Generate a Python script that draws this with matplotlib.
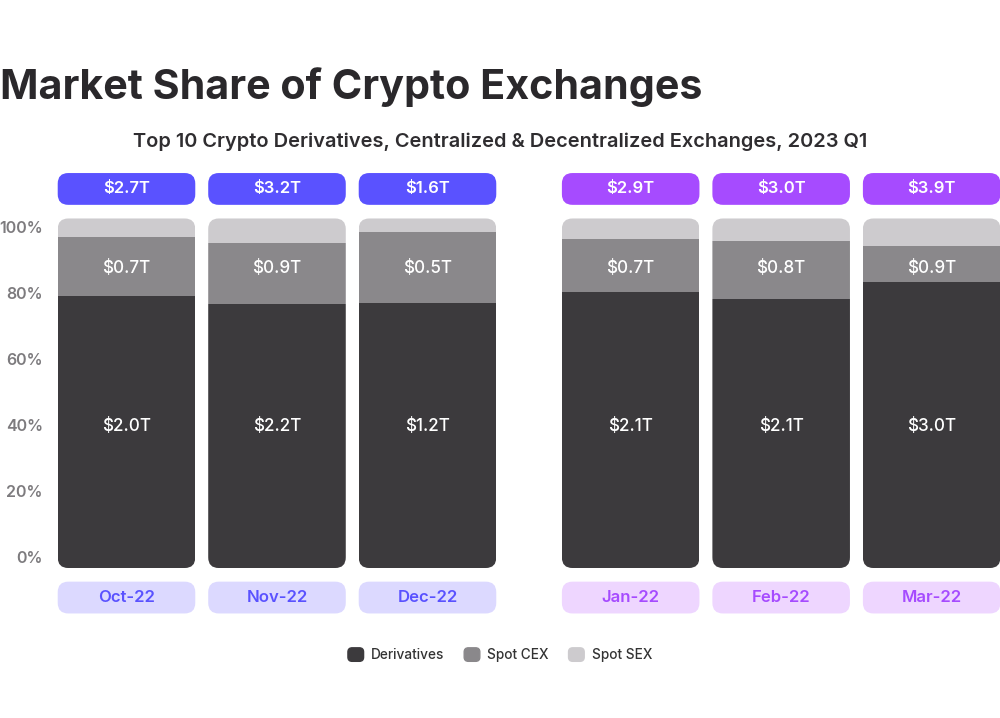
import matplotlib
matplotlib.use("Agg")
import matplotlib.pyplot as plt
from matplotlib.patches import FancyBboxPatch, Patch
from matplotlib.legend_handler import HandlerPatch

plt.rcParams['font.family'] = ['Inter', 'DejaVu Sans']

# data
months = ['Oct-22', 'Nov-22', 'Dec-22', 'Jan-22', 'Feb-22', 'Mar-22']
totals = ['$2.7T', '$3.2T', '$1.6T', '$2.9T', '$3.0T', '$3.9T']
deriv_share = [77.8, 75.5, 75.9, 79.0, 76.9, 81.9]
cex_share = [17.0, 17.4, 20.2, 15.2, 16.6, 10.2]
sex_share = [5.2, 7.1, 3.9, 5.8, 6.5, 7.9]
deriv_labels = ['$2.0T', '$2.2T', '$1.2T', '$2.1T', '$2.1T', '$3.0T']
cex_labels = ['$0.7T', '$0.9T', '$0.5T', '$0.7T', '$0.8T', '$0.9T']
tick_vals = [0, 20, 40, 60, 80, 100]

# two quarters, with a gap between them
xpos = [0, 1, 2, 3.35, 4.35, 5.35]
quarter = [0, 0, 0, 1, 1, 1]

c_deriv = '#3c3a3d'
c_cex = '#8a888b'
c_sex = '#cdcbce'
pill_dark = ['#5a52ff', '#a64bff']
pill_light = ['#dcd9ff', '#eed6ff']

fig = plt.figure(figsize=(10, 7.18), dpi=100)
ax = fig.add_axes([0, 93 / 718, 1, 460 / 718])
ax.set_xlim(-0.8405, -0.8405 + 1000 / 150.5)
ax.set_ylim(-16.3, 115.3)
ax.axis('off')

w = 0.914
# y units per x unit on screen, to keep corners round
aspect = (131.6 / 460) / (1 / 150.5)
r = 0.07

for i, x in enumerate(xpos):
    clip = FancyBboxPatch((x - w / 2, 0), w, 100,
                          boxstyle=f'round,pad=0,rounding_size={r}',
                          mutation_aspect=aspect, transform=ax.transData)
    b1 = ax.bar(x, deriv_share[i], w, color=c_deriv, linewidth=0)
    b2 = ax.bar(x, cex_share[i], w, bottom=deriv_share[i], color=c_cex, linewidth=0)
    b3 = ax.bar(x, sex_share[i], w, bottom=deriv_share[i] + cex_share[i],
                color=c_sex, linewidth=0)
    for b in (b1, b2, b3):
        for p in b.patches:
            p.set_clip_path(clip)

    ax.text(x, 40.6, deriv_labels[i], ha='center', va='center',
            color='white', fontsize=12.3, fontweight='medium')
    ax.text(x, 85.8, cex_labels[i], ha='center', va='center',
            color='white', fontsize=12.3, fontweight='medium')

    q = quarter[i]
    top = FancyBboxPatch((x - w / 2, 103.9), w, 9.1,
                         boxstyle=f'round,pad=0,rounding_size={r}',
                         mutation_aspect=aspect, facecolor=pill_dark[q],
                         edgecolor='none')
    ax.add_patch(top)
    ax.text(x, 108.45, totals[i], ha='center', va='center',
            color='white', fontsize=12, fontweight='semibold')

    bot = FancyBboxPatch((x - w / 2, -13.0), w, 9.1,
                         boxstyle=f'round,pad=0,rounding_size={r}',
                         mutation_aspect=aspect, facecolor=pill_light[q],
                         edgecolor='none')
    ax.add_patch(bot)
    ax.text(x, -8.45, months[i], ha='center', va='center',
            color=pill_dark[q], fontsize=12, fontweight='semibold')

# percent labels sit a little inside the bar ends
for v in tick_vals:
    ax.text(-0.555, 2.86 + v * 0.9414, f'{v}%', ha='right', va='center',
            color='#7d7b7e', fontsize=11.5, fontweight='semibold')

fig.text(0.0, 619 / 718, 'Market Share of Crypto Exchanges', ha='left',
         va='baseline', fontsize=29.7, fontweight='bold', color='#2a282b')
fig.text(0.5, 576 / 718,
         'Top 10 Crypto Derivatives, Centralized & Decentralized Exchanges, 2023 Q1',
         ha='center', va='center', fontsize=14.4, fontweight='semibold',
         color='#2f2d30')


def rounded_handle(legend, orig_handle, xdescent, ydescent, width, height, fontsize):
    return FancyBboxPatch((-xdescent, -ydescent), width, height,
                          boxstyle='round,pad=0,rounding_size=3')


handles = [Patch(color=c_deriv, label='Derivatives'),
           Patch(color=c_cex, label='Spot CEX'),
           Patch(color=c_sex, label='Spot SEX')]
leg = fig.legend(handles=handles, loc='center', bbox_to_anchor=(0.5, 63 / 718),
                 ncol=3, frameon=False, fontsize=9.8, handlelength=1.15,
                 handleheight=1.15, handletextpad=0.55, columnspacing=1.45,
                 handler_map={Patch: HandlerPatch(patch_func=rounded_handle)},
                 labelcolor='#333333')
for t in leg.get_texts():
    t.set_fontweight('medium')

fig.savefig('out.png', dpi=100, facecolor='white')
